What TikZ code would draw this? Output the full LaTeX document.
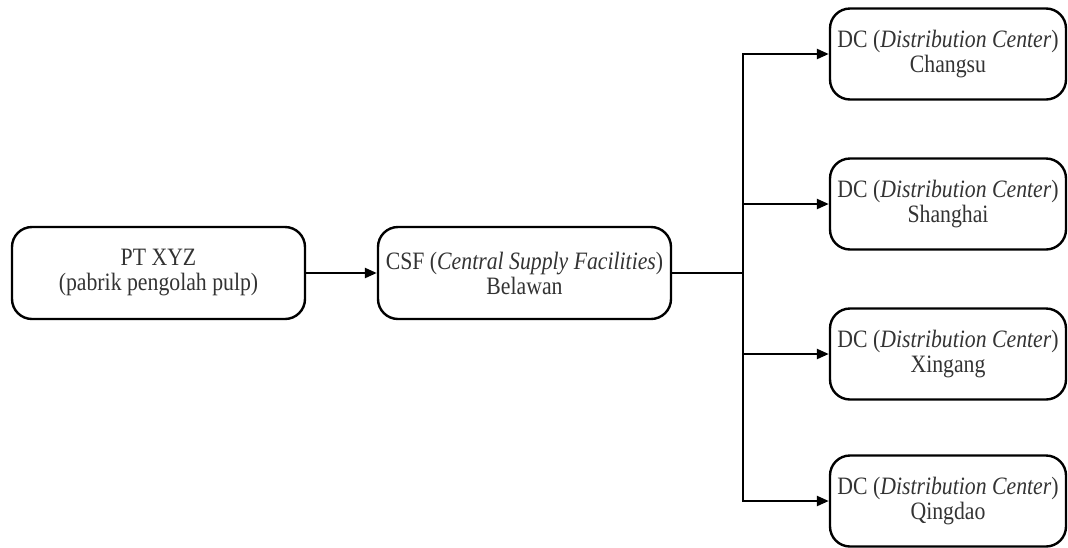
\documentclass[tikz,border=0pt]{standalone}
\usepackage{fontspec}
\setmainfont[FakeStretch=0.87]{Liberation Serif}
\usetikzlibrary{arrows.meta}
\begin{document}
\begin{tikzpicture}[x=1pt,y=-1pt,
  box/.style={draw, line width=2.4pt, rounded corners=20pt, align=center,
    inner sep=0pt, font=\fontsize{25}{25}\selectfont, text=black!80},
  bigbox/.style={box, minimum width=293pt, minimum height=92pt},
  dcbox/.style={box, minimum width=236pt, minimum height=91pt},
  conn/.style={line width=2.4pt},
  arr/.style={conn, -{Triangle[length=12pt,width=10pt]}}]
\useasboundingbox (0,0) rectangle (1068,547);
\node[bigbox] (pt) at (158.5,273) {PT XYZ\\(pabrik pengolah pulp)};
\node[bigbox] (csf) at (524.5,273) {CSF (\textit{Central Supply Facilities})\\Belawan};
\node[dcbox] (dc1) at (948,54) {DC (\textit{Distribution Center})\\Changsu};
\node[dcbox] (dc2) at (948,204) {DC (\textit{Distribution Center})\\Shanghai};
\node[dcbox] (dc3) at (948,354) {DC (\textit{Distribution Center})\\Xingang};
\node[dcbox] (dc4) at (948,501) {DC (\textit{Distribution Center})\\Qingdao};
\coordinate (j) at (743,273);
\draw[arr] (pt.east) -- (csf.west);
\draw[conn] (csf.east) -- (j);
\draw[arr] (j) |- (dc1.west);
\draw[arr] (j) |- (dc2.west);
\draw[arr] (j) |- (dc3.west);
\draw[arr] (j) |- (dc4.west);
\end{tikzpicture}
\end{document}
